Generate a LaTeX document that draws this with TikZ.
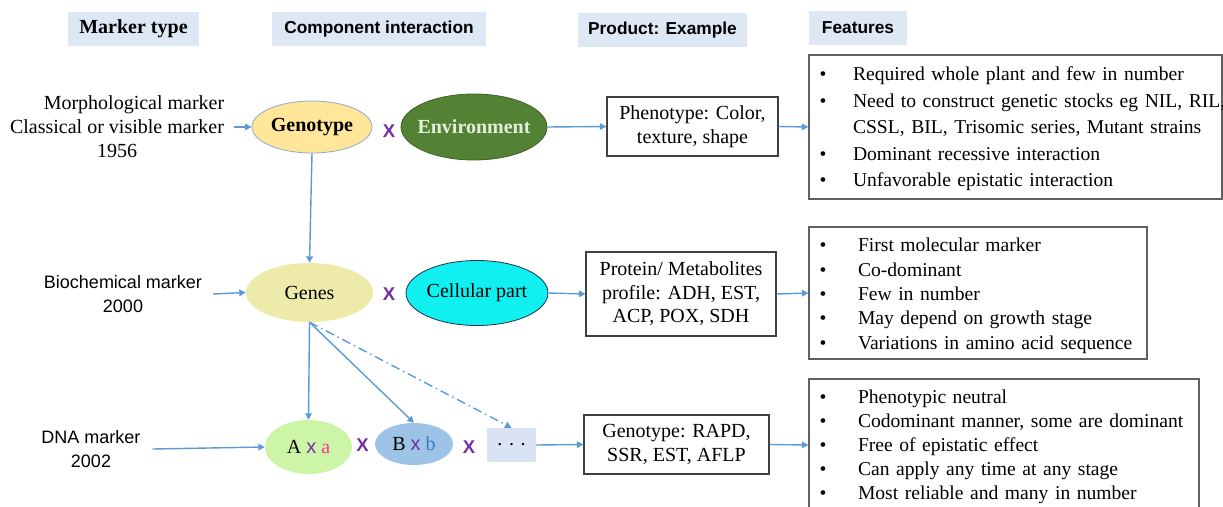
\documentclass[tikz,border=0pt]{standalone}
\usepackage{fontspec}
\setmainfont{Liberation Serif}
\setsansfont{Liberation Sans}
\usetikzlibrary{shapes.geometric,arrows.meta}
\definecolor{arrowc}{HTML}{5B9BD5}
\definecolor{hdrc}{HTML}{DDE8F4}
\definecolor{genoc}{HTML}{FFE699}
\definecolor{genoborder}{HTML}{8FAACB}
\definecolor{envc}{HTML}{548235}
\definecolor{envborder}{HTML}{3E6126}
\definecolor{envtxt}{HTML}{E2F0D9}
\definecolor{genesc}{HTML}{EEEBAA}
\definecolor{cellc}{HTML}{10F0F0}
\definecolor{cellborder}{HTML}{1F3050}
\definecolor{axac}{HTML}{CCF5A8}
\definecolor{bxbc}{HTML}{9DC3E6}
\definecolor{dotsc}{HTML}{DAE3F3}
\definecolor{xpurple}{HTML}{7030A0}
\definecolor{pinkc}{HTML}{FF3399}
\definecolor{bblue}{HTML}{3A7CC4}
\definecolor{boxborder}{HTML}{404040}
\definecolor{fborder}{HTML}{606060}
\newcommand{\bitemA}[1]{\mbox{\makebox[33.5pt][l]{\textbullet}#1}}
\newcommand{\bitemB}[1]{\mbox{\makebox[38.5pt][l]{\textbullet}#1}}
\begin{document}
\begin{tikzpicture}[x=1pt,y=-1pt,
  hdr/.style={fill=hdrc, inner sep=0pt, minimum height=34pt,
    font=\sffamily\bfseries\fontsize{17.3}{20}\selectfont},
  lblserif/.style={inner sep=0pt, align=center, font=\fontsize{20}{24}\selectfont},
  lblsans/.style={inner sep=0pt, align=center, font=\sffamily\fontsize{18}{24}\selectfont},
  ell/.style={ellipse, inner sep=0pt, font=\fontsize{20}{24}\selectfont},
  prodbox/.style={draw=boxborder, line width=1.1pt, fill=white, inner sep=0pt,
    align=center, font=\fontsize{20}{23.5}\selectfont},
  featbox/.style={draw=fborder, line width=1.1pt, fill=white, inner xsep=10.5pt,
    inner ysep=0pt, align=left},
  xmark/.style={inner sep=0pt, text=xpurple, font=\sffamily\bfseries\fontsize{18.5}{20}\selectfont},
  arr/.style={draw=arrowc, line width=1.4pt, -{Triangle[length=6.5pt,width=6.5pt]}},
  dasharr/.style={arr, dash pattern=on 9pt off 4pt on 1.5pt off 4pt}
]
\useasboundingbox (0,0) rectangle (1223,506);

% headers
\node[hdr, minimum width=131pt, font=\bfseries\fontsize{20}{24}\selectfont] (h1) at (133.5,29) {Marker type};
\node[hdr, minimum width=214pt] (h2) at (379,29) {Component interaction};
\node[hdr, minimum width=169pt] (h3) at (662.5,30) {Product: Example};
\node[hdr, minimum width=98pt] (h4) at (858,28) {Features};

% left labels
\node[lblserif] (l1) at (117,127) {\hspace*{34pt}Morphological marker\\Classical or visible marker\\1956};
\node[lblsans] (l2) at (123,294) {Biochemical marker\\2000};
\node[lblsans] (l3) at (91,449) {DNA marker\\2002};

% row 1
\node[ell, fill=genoc, draw=genoborder, line width=0.8pt, minimum width=120pt, minimum height=52pt] (geno) at (312,127) {\makebox[0pt]{\bfseries Genotype}};
\node[xmark] (x1) at (389,131) {X};
\node[ell, fill=envc, draw=envborder, line width=0.8pt, minimum width=146pt, minimum height=66pt, text=envtxt] (env) at (474,127) {\makebox[0pt]{\bfseries Environment}};
\node[prodbox, minimum width=171pt, minimum height=59pt] (pheno) at (692.5,126.5) {Phenotype: Color,\\texture, shape};
\node[featbox, text width=392pt, minimum height=144pt, font=\fontsize{19.6}{26.5}\selectfont] (f1) at (1015.5,127) {%
\rule{0pt}{18pt}\bitemA{Required whole plant and few in number}\\
\bitemA{Need to construct genetic stocks eg NIL, RIL,}\\
\mbox{\hspace*{33.5pt}CSSL, BIL, Trisomic series, Mutant strains}\\
\bitemA{Dominant recessive interaction}\\
\bitemA{Unfavorable epistatic interaction}};

% row 2
\node[ell, fill=genesc, minimum width=127pt, minimum height=59pt] (genes) at (309.5,292.5) {\makebox[0pt]{Genes}};
\node[xmark] (x2) at (389,294) {X};
\node[ell, fill=cellc, draw=cellborder, line width=0.8pt, minimum width=142pt, minimum height=65pt] (cell) at (477,293) {\makebox[0pt]{Cellular part}};
\node[prodbox, minimum width=190pt, minimum height=84pt] (prot) at (681,294) {Protein/ Metabolites\\profile: ADH, EST,\\ACP, POX, SDH};
\node[featbox, text width=317pt, minimum height=132pt, font=\fontsize{19.6}{24.3}\selectfont] (f2) at (978,293) {%
\rule{0pt}{19pt}\bitemB{First molecular marker}\\
\bitemB{Co-dominant}\\
\bitemB{Few in number}\\
\bitemB{May depend on growth stage}\\
\bitemB{Variations in amino acid sequence}};

% row 3
\node[ell, fill=axac, minimum width=87pt, minimum height=54pt] (axa) at (308.5,447) {\makebox[0pt]{A {\sffamily\color{xpurple}x} {\color{pinkc}a}}};
\node[xmark] (x3) at (362.5,445) {X};
\node[ell, fill=bxbc, minimum width=78pt, minimum height=42pt] (bxb) at (414,444) {\makebox[0pt]{B {\sffamily\color{xpurple}x} {\color{bblue}b}}};
\node[xmark] (x4) at (469,447) {X};
\node[fill=dotsc, inner sep=0pt, minimum width=49pt, minimum height=34pt, font=\fontsize{20}{24}\selectfont] (dots) at (511.5,445) {. . .};
\node[prodbox, minimum width=185pt, minimum height=59pt] (genobox) at (676.5,444.5) {Genotype: RAPD,\\SSR, EST, AFLP};
\node[featbox, text width=369pt, minimum height=132pt, font=\fontsize{19.6}{24}\selectfont] (f3) at (1004,445) {%
\rule{0pt}{18pt}\bitemB{Phenotypic neutral}\\
\bitemB{Codominant manner, some are dominant}\\
\bitemB{Free of epistatic effect}\\
\bitemB{Can apply any time at any stage}\\
\bitemB{Most reliable and many in number}};

% connectors
\draw[arr] ([xshift=10pt]l1.east) -- (geno.west);
\draw[arr] (env.east) -- (pheno.west);
\draw[arr] (pheno.east) -- (f1.west);
\draw[arr] (geno.south) -- (genes.north);
\draw[arr] ([xshift=11pt]l2.east) -- (genes.west);
\draw[arr] (cell.east) -- (prot.west);
\draw[arr] (prot.east) -- (f2.west);
\draw[arr] (genes.south) -- (axa.north);
\draw[arr] (genes.south) -- (bxb.north);
\draw[dasharr] (genes.south) -- (dots.north);
\draw[arr] ([xshift=12pt]l3.east) -- (axa.west);
\draw[arr] (dots.east) -- (genobox.west);
\draw[arr] (genobox.east) -- (f3.west);
\end{tikzpicture}
\end{document}
